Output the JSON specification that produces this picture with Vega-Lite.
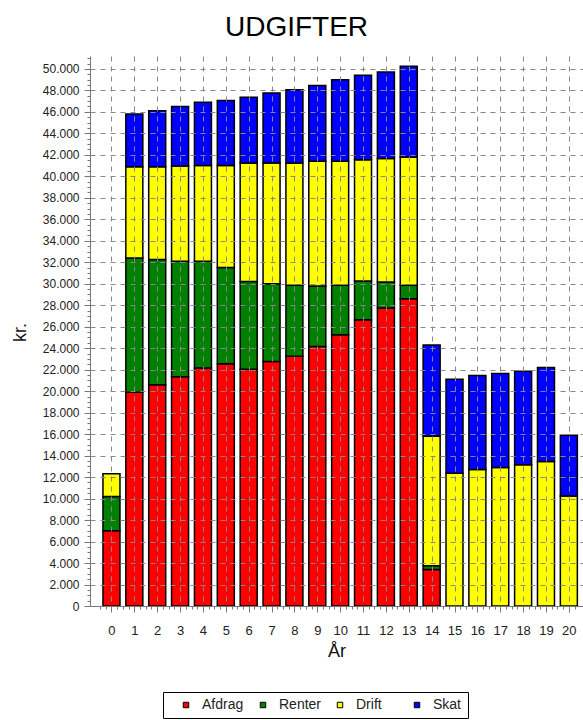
{
  "$schema": "https://vega.github.io/schema/vega-lite/v6.json",
  "width": 493,
  "height": 550,
  "autosize": {"type": "none"},
  "padding": {"left": 90, "top": 56, "right": 0, "bottom": 114},
  "background": "white",
  "title": {"text": "UDGIFTER", "font": "Liberation Sans", "fontSize": 28, "fontWeight": "normal", "color": "#000", "anchor": "middle", "frame": "group", "dx": -40, "dy": 31, "offset": 19, "baseline": "alphabetic"},
  "config": {"view": {"stroke": null}},
  "data": {"values": [
    {"year": 0, "type": "Afdrag", "value": 7000},
    {"year": 0, "type": "Renter", "value": 3200},
    {"year": 0, "type": "Drift", "value": 2100},
    {"year": 1, "type": "Afdrag", "value": 19900},
    {"year": 1, "type": "Renter", "value": 12500},
    {"year": 1, "type": "Drift", "value": 8500},
    {"year": 1, "type": "Skat", "value": 4900},
    {"year": 2, "type": "Afdrag", "value": 20600},
    {"year": 2, "type": "Renter", "value": 11650},
    {"year": 2, "type": "Drift", "value": 8650},
    {"year": 2, "type": "Skat", "value": 5200},
    {"year": 3, "type": "Afdrag", "value": 21350},
    {"year": 3, "type": "Renter", "value": 10750},
    {"year": 3, "type": "Drift", "value": 8850},
    {"year": 3, "type": "Skat", "value": 5550},
    {"year": 4, "type": "Afdrag", "value": 22150},
    {"year": 4, "type": "Renter", "value": 9950},
    {"year": 4, "type": "Drift", "value": 8900},
    {"year": 4, "type": "Skat", "value": 5900},
    {"year": 5, "type": "Afdrag", "value": 22550},
    {"year": 5, "type": "Renter", "value": 8950},
    {"year": 5, "type": "Drift", "value": 9500},
    {"year": 5, "type": "Skat", "value": 6050},
    {"year": 6, "type": "Afdrag", "value": 22050},
    {"year": 6, "type": "Renter", "value": 8150},
    {"year": 6, "type": "Drift", "value": 11050},
    {"year": 6, "type": "Skat", "value": 6100},
    {"year": 7, "type": "Afdrag", "value": 22750},
    {"year": 7, "type": "Renter", "value": 7250},
    {"year": 7, "type": "Drift", "value": 11250},
    {"year": 7, "type": "Skat", "value": 6500},
    {"year": 8, "type": "Afdrag", "value": 23250},
    {"year": 8, "type": "Renter", "value": 6600},
    {"year": 8, "type": "Drift", "value": 11400},
    {"year": 8, "type": "Skat", "value": 6800},
    {"year": 9, "type": "Afdrag", "value": 24150},
    {"year": 9, "type": "Renter", "value": 5650},
    {"year": 9, "type": "Drift", "value": 11600},
    {"year": 9, "type": "Skat", "value": 7050},
    {"year": 10, "type": "Afdrag", "value": 25250},
    {"year": 10, "type": "Renter", "value": 4600},
    {"year": 10, "type": "Drift", "value": 11550},
    {"year": 10, "type": "Skat", "value": 7600},
    {"year": 11, "type": "Afdrag", "value": 26650},
    {"year": 11, "type": "Renter", "value": 3600},
    {"year": 11, "type": "Drift", "value": 11300},
    {"year": 11, "type": "Skat", "value": 7850},
    {"year": 12, "type": "Afdrag", "value": 27750},
    {"year": 12, "type": "Renter", "value": 2400},
    {"year": 12, "type": "Drift", "value": 11500},
    {"year": 12, "type": "Skat", "value": 8050},
    {"year": 13, "type": "Afdrag", "value": 28600},
    {"year": 13, "type": "Renter", "value": 1250},
    {"year": 13, "type": "Drift", "value": 11950},
    {"year": 13, "type": "Skat", "value": 8450},
    {"year": 14, "type": "Afdrag", "value": 3400},
    {"year": 14, "type": "Renter", "value": 350},
    {"year": 14, "type": "Drift", "value": 12050},
    {"year": 14, "type": "Skat", "value": 8500},
    {"year": 15, "type": "Drift", "value": 12350},
    {"year": 15, "type": "Skat", "value": 8750},
    {"year": 16, "type": "Drift", "value": 12700},
    {"year": 16, "type": "Skat", "value": 8750},
    {"year": 17, "type": "Drift", "value": 12900},
    {"year": 17, "type": "Skat", "value": 8750},
    {"year": 18, "type": "Drift", "value": 13150},
    {"year": 18, "type": "Skat", "value": 8700},
    {"year": 19, "type": "Drift", "value": 13450},
    {"year": 19, "type": "Skat", "value": 8750},
    {"year": 20, "type": "Drift", "value": 10250},
    {"year": 20, "type": "Skat", "value": 5650}
  ]},
  "transform": [
    {"calculate": "indexof(['Afdrag', 'Renter', 'Drift', 'Skat'], datum.type)", "as": "stackIndex"}
  ],
  "mark": {"type": "bar", "width": 17, "stroke": "#000", "strokeWidth": 1.5},
  "encoding": {
    "x": {
      "field": "year", "type": "quantitative",
      "scale": {"domain": [-0.72, 20.4], "nice": false, "zero": false},
      "axis": {
        "values": [-0.5,-0.25,0,0.25,0.5,0.75,1,1.25,1.5,1.75,2,2.25,2.5,2.75,3,3.25,3.5,3.75,4,4.25,4.5,4.75,5,5.25,5.5,5.75,6,6.25,6.5,6.75,7,7.25,7.5,7.75,8,8.25,8.5,8.75,9,9.25,9.5,9.75,10,10.25,10.5,10.75,11,11.25,11.5,11.75,12,12.25,12.5,12.75,13,13.25,13.5,13.75,14,14.25,14.5,14.75,15,15.25,15.5,15.75,16,16.25,16.5,16.75,17,17.25,17.5,17.75,18,18.25,18.5,18.75,19,19.25,19.5,19.75,20,20.25],
        "labelExpr": "datum.value % 1 === 0 ? format(datum.value, 'd') : ''",
        "tickSize": {"condition": {"test": "datum.value % 1 === 0", "value": 6}, "value": 3},
        "grid": true,
        "gridOpacity": {"condition": {"test": "datum.value % 1 === 0", "value": 1}, "value": 0},
        "gridDash": [5, 5], "gridColor": "#888", "gridWidth": 1,
        "title": "År", "titleFont": "Liberation Sans", "titleFontSize": 18, "titleFontWeight": "normal", "titleColor": "#111",
        "titleY": 50, "titleBaseline": "alphabetic",
        "labelFont": "Liberation Sans", "labelFontSize": 13, "labelColor": "#222", "labelPadding": 12,
        "labelOverlap": false, "labelFlush": false, "labelBound": false,
        "domainColor": "#777", "tickColor": "#777", "zindex": 1
      }
    },
    "y": {
      "field": "value", "type": "quantitative", "stack": "zero",
      "scale": {"domain": [0, 51200], "nice": false},
      "axis": {
        "values": [0,500,1000,1500,2000,2500,3000,3500,4000,4500,5000,5500,6000,6500,7000,7500,8000,8500,9000,9500,10000,10500,11000,11500,12000,12500,13000,13500,14000,14500,15000,15500,16000,16500,17000,17500,18000,18500,19000,19500,20000,20500,21000,21500,22000,22500,23000,23500,24000,24500,25000,25500,26000,26500,27000,27500,28000,28500,29000,29500,30000,30500,31000,31500,32000,32500,33000,33500,34000,34500,35000,35500,36000,36500,37000,37500,38000,38500,39000,39500,40000,40500,41000,41500,42000,42500,43000,43500,44000,44500,45000,45500,46000,46500,47000,47500,48000,48500,49000,49500,50000,50500,51000],
        "labelExpr": "datum.value % 2000 === 0 ? replace(format(datum.value, ','), ',', '.') : ''",
        "tickSize": {"condition": {"test": "datum.value % 2000 === 0", "value": 6}, "value": 3},
        "grid": true,
        "gridOpacity": {"condition": {"test": "datum.value % 2000 === 0", "value": 1}, "value": 0},
        "gridDash": [5, 5], "gridColor": "#888", "gridWidth": 1,
        "title": "kr.", "titleFont": "Liberation Sans", "titleFontSize": 18, "titleFontWeight": "normal", "titleColor": "#111",
        "titleX": -70, "titleY": 276, "titleAlign": "center", "titleBaseline": "middle", "titleAngle": -90,
        "labelFont": "Liberation Sans", "labelFontSize": 12, "labelColor": "#222", "labelPadding": 5,
        "labelOverlap": false, "labelFlush": false, "labelBound": false,
        "domainColor": "#777", "tickColor": "#777", "zindex": 1
      }
    },
    "order": {"field": "stackIndex", "type": "quantitative", "sort": "ascending"},
    "color": {
      "field": "type", "type": "nominal",
      "scale": {"domain": ["Afdrag", "Renter", "Drift", "Skat"], "range": ["#FF0000", "#008000", "#FFFF00", "#0000FF"]},
      "legend": {
        "orient": "none", "legendX": 73, "legendY": 636, "direction": "horizontal", "columns": 4,
        "title": null, "symbolType": "square", "symbolSize": 30, "symbolStrokeColor": "#000", "symbolStrokeWidth": 1,
        "symbolOffset": 10,
        "labelFont": "Liberation Sans", "labelFontSize": 14, "labelColor": "#222", "labelOffset": 9,
        "columnPadding": 1, "gridAlign": "all", "padding": 6,
        "strokeColor": "#000", "fillColor": "#fff", "cornerRadius": 0
      }
    }
  }
}
